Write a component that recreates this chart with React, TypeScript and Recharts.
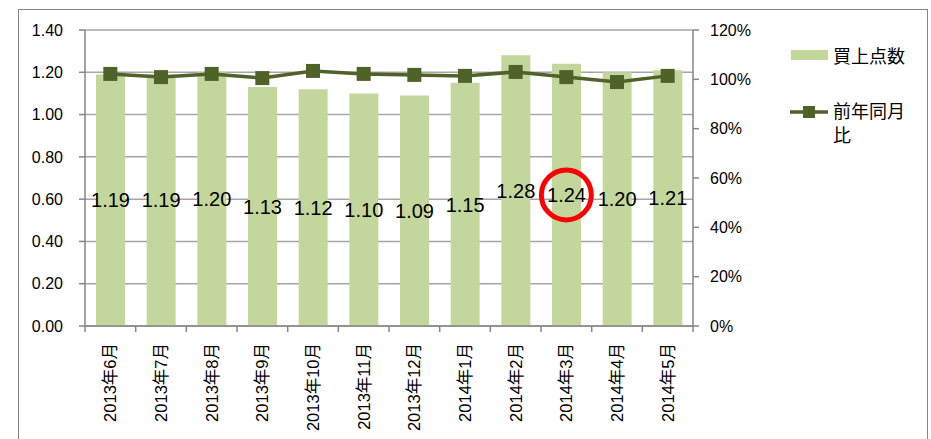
import React from 'react';
import { ComposedChart, Bar, Line, XAxis, YAxis, CartesianGrid, Legend, LabelList, ReferenceDot } from 'recharts';

const months = ['2013年6月', '2013年7月', '2013年8月', '2013年9月', '2013年10月', '2013年11月', '2013年12月', '2014年1月', '2014年2月', '2014年3月', '2014年4月', '2014年5月'];
const itemCounts = [1.19, 1.19, 1.2, 1.13, 1.12, 1.1, 1.09, 1.15, 1.28, 1.24, 1.2, 1.21];
const yoyRatio = [1.022, 1.009, 1.022, 1.005, 1.034, 1.022, 1.018, 1.014, 1.03, 1.009, 0.989, 1.014];
const leftTicks = [0, 0.2, 0.4, 0.6, 0.8, 1.0, 1.2, 1.4];
const rightTicks = [0, 0.2, 0.4, 0.6, 0.8, 1.0, 1.2];
const highlightMonth = '2014年3月';
const highlightY = 0.62;

const data = months.map((m, i) => ({ month: m, count: itemCounts[i], ratio: yoyRatio[i] }));

const FONT = "'Liberation Sans', 'Noto Sans CJK JP', sans-serif";
const BAR = '#c3d69b';
const LINE = '#4f6228';
const AXIS = '#868686';
const GRID = '#a6a6a6';

const W = 931;
const H = 439;
const PLOT_LEFT = 85;
const PLOT_RIGHT = 693;
const BAND = (PLOT_RIGHT - PLOT_LEFT) / months.length;

const MonthTick = (props: any) => {
  const { x, y, index } = props;
  const last = index === months.length - 1;
  return (
    <g>
      <line x1={x - BAND / 2} x2={x - BAND / 2} y1={y} y2={y + 6} stroke={AXIS} strokeWidth={1.5} />
      {last && <line x1={x + BAND / 2} x2={x + BAND / 2} y1={y} y2={y + 6} stroke={AXIS} strokeWidth={1.5} />}
      <text
        transform={`translate(${x + 6}, ${y + 17}) rotate(-90)`}
        textAnchor="end"
        fontSize={16.5}
        fontFamily={FONT}
        fill="#000"
      >
        {props.payload.value}
      </text>
    </g>
  );
};

const SquareDot = (props: any) => {
  const { cx, cy, index } = props;
  return <rect key={`d${index}`} x={cx - 7} y={cy - 7} width={14} height={14} fill={LINE} />;
};

const LegendBox = () => (
  <div style={{ width: 148, fontFamily: FONT, fontSize: 18, color: '#000' }}>
    <div style={{ display: 'flex', alignItems: 'center', height: 30 }}>
      <svg width={50} height={30}>
        <rect x={8} y={10} width={37} height={10} fill={BAR} />
      </svg>
      <span>買上点数</span>
    </div>
    <div style={{ display: 'flex', alignItems: 'flex-start', marginTop: 30 }}>
      <svg width={50} height={24} style={{ flex: 'none' }}>
        <line x1={7} x2={45} y1={12} y2={12} stroke={LINE} strokeWidth={3.5} />
        <rect x={20} y={6} width={12} height={12} fill={LINE} />
      </svg>
      <span style={{ width: 80, lineHeight: '24px' }}>前年同月比</span>
    </div>
  </div>
);

export default function App() {
  return (
    <div style={{ position: 'absolute', left: 0, top: 0, width: W, height: H, overflow: 'hidden', background: '#fff' }}>
      <div style={{ position: 'absolute', left: 18, top: 9, width: 908, height: 460, border: `1.5px solid ${AXIS}` }} />
      <ComposedChart width={W} height={H} data={data} margin={{ top: 30, right: 20, bottom: 0, left: 18 }}>
        <CartesianGrid vertical={false} stroke={GRID} strokeWidth={1.5} yAxisId="left" />
        <XAxis
          dataKey="month"
          height={113}
          interval={0}
          tickLine={false}
          tickSize={0}
          tickMargin={0}
          stroke={AXIS}
          strokeWidth={1.5}
          tick={<MonthTick />}
        />
        <YAxis
          yAxisId="left"
          width={67}
          domain={[0, 1.4]}
          ticks={leftTicks}
          tickFormatter={(v: number) => v.toFixed(2)}
          tickSize={6}
          tickMargin={16}
          stroke={AXIS}
          strokeWidth={1.5}
          tick={{ fill: '#000', fontSize: 16, fontFamily: FONT }}
        />
        <YAxis
          yAxisId="right"
          orientation="right"
          width={70}
          domain={[0, 1.2]}
          ticks={rightTicks}
          tickFormatter={(v: number) => `${Math.round(v * 100)}%`}
          tickSize={6}
          tickMargin={11}
          stroke={AXIS}
          strokeWidth={1.5}
          tick={{ fill: '#000', fontSize: 16, fontFamily: FONT, textAnchor: 'start' }}
        />
        <Legend
          layout="vertical"
          align="right"
          verticalAlign="top"
          wrapperStyle={{ left: 783, top: 40, width: 148 }}
          content={<LegendBox />}
        />
        <Bar yAxisId="left" dataKey="count" name="買上点数" fill={BAR} barSize={29} isAnimationActive={false}>
          <LabelList dataKey="count" position="center" formatter={(v: any) => Number(v).toFixed(2)} fill="#000" fontSize={20} fontFamily={FONT} />
        </Bar>
        <Line
          yAxisId="right"
          dataKey="ratio"
          name="前年同月比"
          stroke={LINE}
          strokeWidth={3.5}
          dot={<SquareDot />}
          activeDot={false}
          isAnimationActive={false}
        />
        <ReferenceDot yAxisId="left" x={highlightMonth} y={highlightY} r={25} fill="none" stroke="#ff0000" strokeWidth={5} />
      </ComposedChart>
    </div>
  );
}
